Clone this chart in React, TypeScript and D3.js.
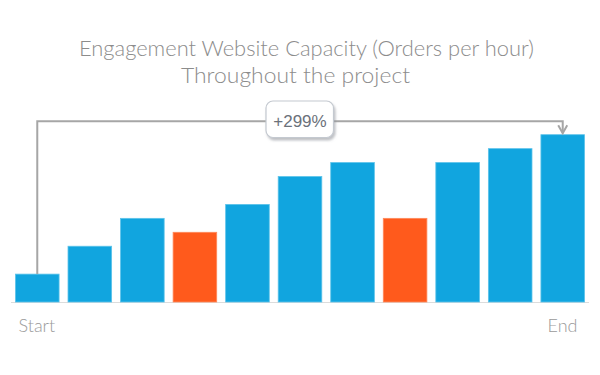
import React from "react";
import * as d3 from "d3";

const categories = ["P1", "P2", "P3", "P4", "P5", "P6", "P7", "P8", "P9", "P10", "P11"];
const capacity = [2, 4, 6, 5, 7, 9, 10, 6, 10, 11, 12];
const highlighted = [false, false, false, true, false, false, false, true, false, false, false];
const axisLabels = ["Start", "End"];
const titleLines = ["Engagement Website Capacity (Orders per hour)", "Throughout the project"];
const changeLabel = "+299%";

const W = 600;
const H = 375;

export default function App() {
  const x = d3.scaleBand<string>().domain(categories).range([11, 589]).paddingInner(0.17).paddingOuter(0.085);
  const y = d3.scaleLinear().domain([0, 12]).range([302, 134.7]);
  const bw = x.bandwidth();
  const first = categories[0];
  const last = categories[categories.length - 1];
  const x0 = (x(first) as number) + bw / 2;
  const x1 = (x(last) as number) + bw / 2;
  const yTop = 121.3;
  const yFirst = y(capacity[0]);
  const yLast = y(capacity[capacity.length - 1]);
  const font = "Lato, 'Open Sans', sans-serif";

  const bracket = d3.line()([
    [x0, yFirst],
    [x0, yTop],
    [x1, yTop],
    [x1, yLast - 1.5],
  ]);

  return (
    <svg width={W} height={H} style={{ position: "absolute", left: 0, top: 0, background: "#fff" }}>
      <defs>
        <filter id="sh" x="-20%" y="-20%" width="150%" height="160%">
          <feDropShadow dx="1.5" dy="2.5" stdDeviation="1" floodColor="#8a8f96" floodOpacity="0.55" />
        </filter>
      </defs>
      <g fontFamily={font} fill="#8c8c8c" fontWeight={300}>
        <text x={306.5} y={56} textAnchor="middle" fontSize={21} textLength={455} lengthAdjust="spacingAndGlyphs">
          {titleLines[0]}
        </text>
        <text x={295.5} y={83} textAnchor="middle" fontSize={21} textLength={229} lengthAdjust="spacingAndGlyphs">
          {titleLines[1]}
        </text>
      </g>
      <line x1={11} x2={589} y1={302.5} y2={302.5} stroke="#dcdcdc" strokeWidth={1} />
      {categories.map((c, i) => (
        <rect
          key={c}
          x={x(c)}
          y={y(capacity[i])}
          width={bw}
          height={y(0) - y(capacity[i])}
          fill={highlighted[i] ? "#ff5a1c" : "#11a5df"}
          stroke={highlighted[i] ? "#ff8a5c" : "#5cc3ea"}
          strokeWidth={0.8}
        />
      ))}
      <path d={bracket as string} fill="none" stroke="#a6a6a6" strokeWidth={2} />
      <path
        d={`M${x1 - 4.5},${yLast - 9.5} L${x1},${yLast - 1.5} L${x1 + 4.5},${yLast - 9.5}`}
        fill="none"
        stroke="#a6a6a6"
        strokeWidth={2}
      />
      <rect x={266} y={101} width={67.5} height={36.5} rx={7} fill="#fff" stroke="#c4c9d0" strokeWidth={1.2} filter="url(#sh)" />
      <text x={300} y={127} textAnchor="middle" fontSize={17} fill="#6b717a" fontFamily="'Liberation Sans', Arial, sans-serif">
        {changeLabel}
      </text>
      <g fontFamily={font} fill="#9a9a9a" fontSize={18} fontWeight={300}>
        <text x={18.5} y={332}>{axisLabels[0]}</text>
        <text x={577.5} y={332} textAnchor="end">{axisLabels[1]}</text>
      </g>
    </svg>
  );
}
